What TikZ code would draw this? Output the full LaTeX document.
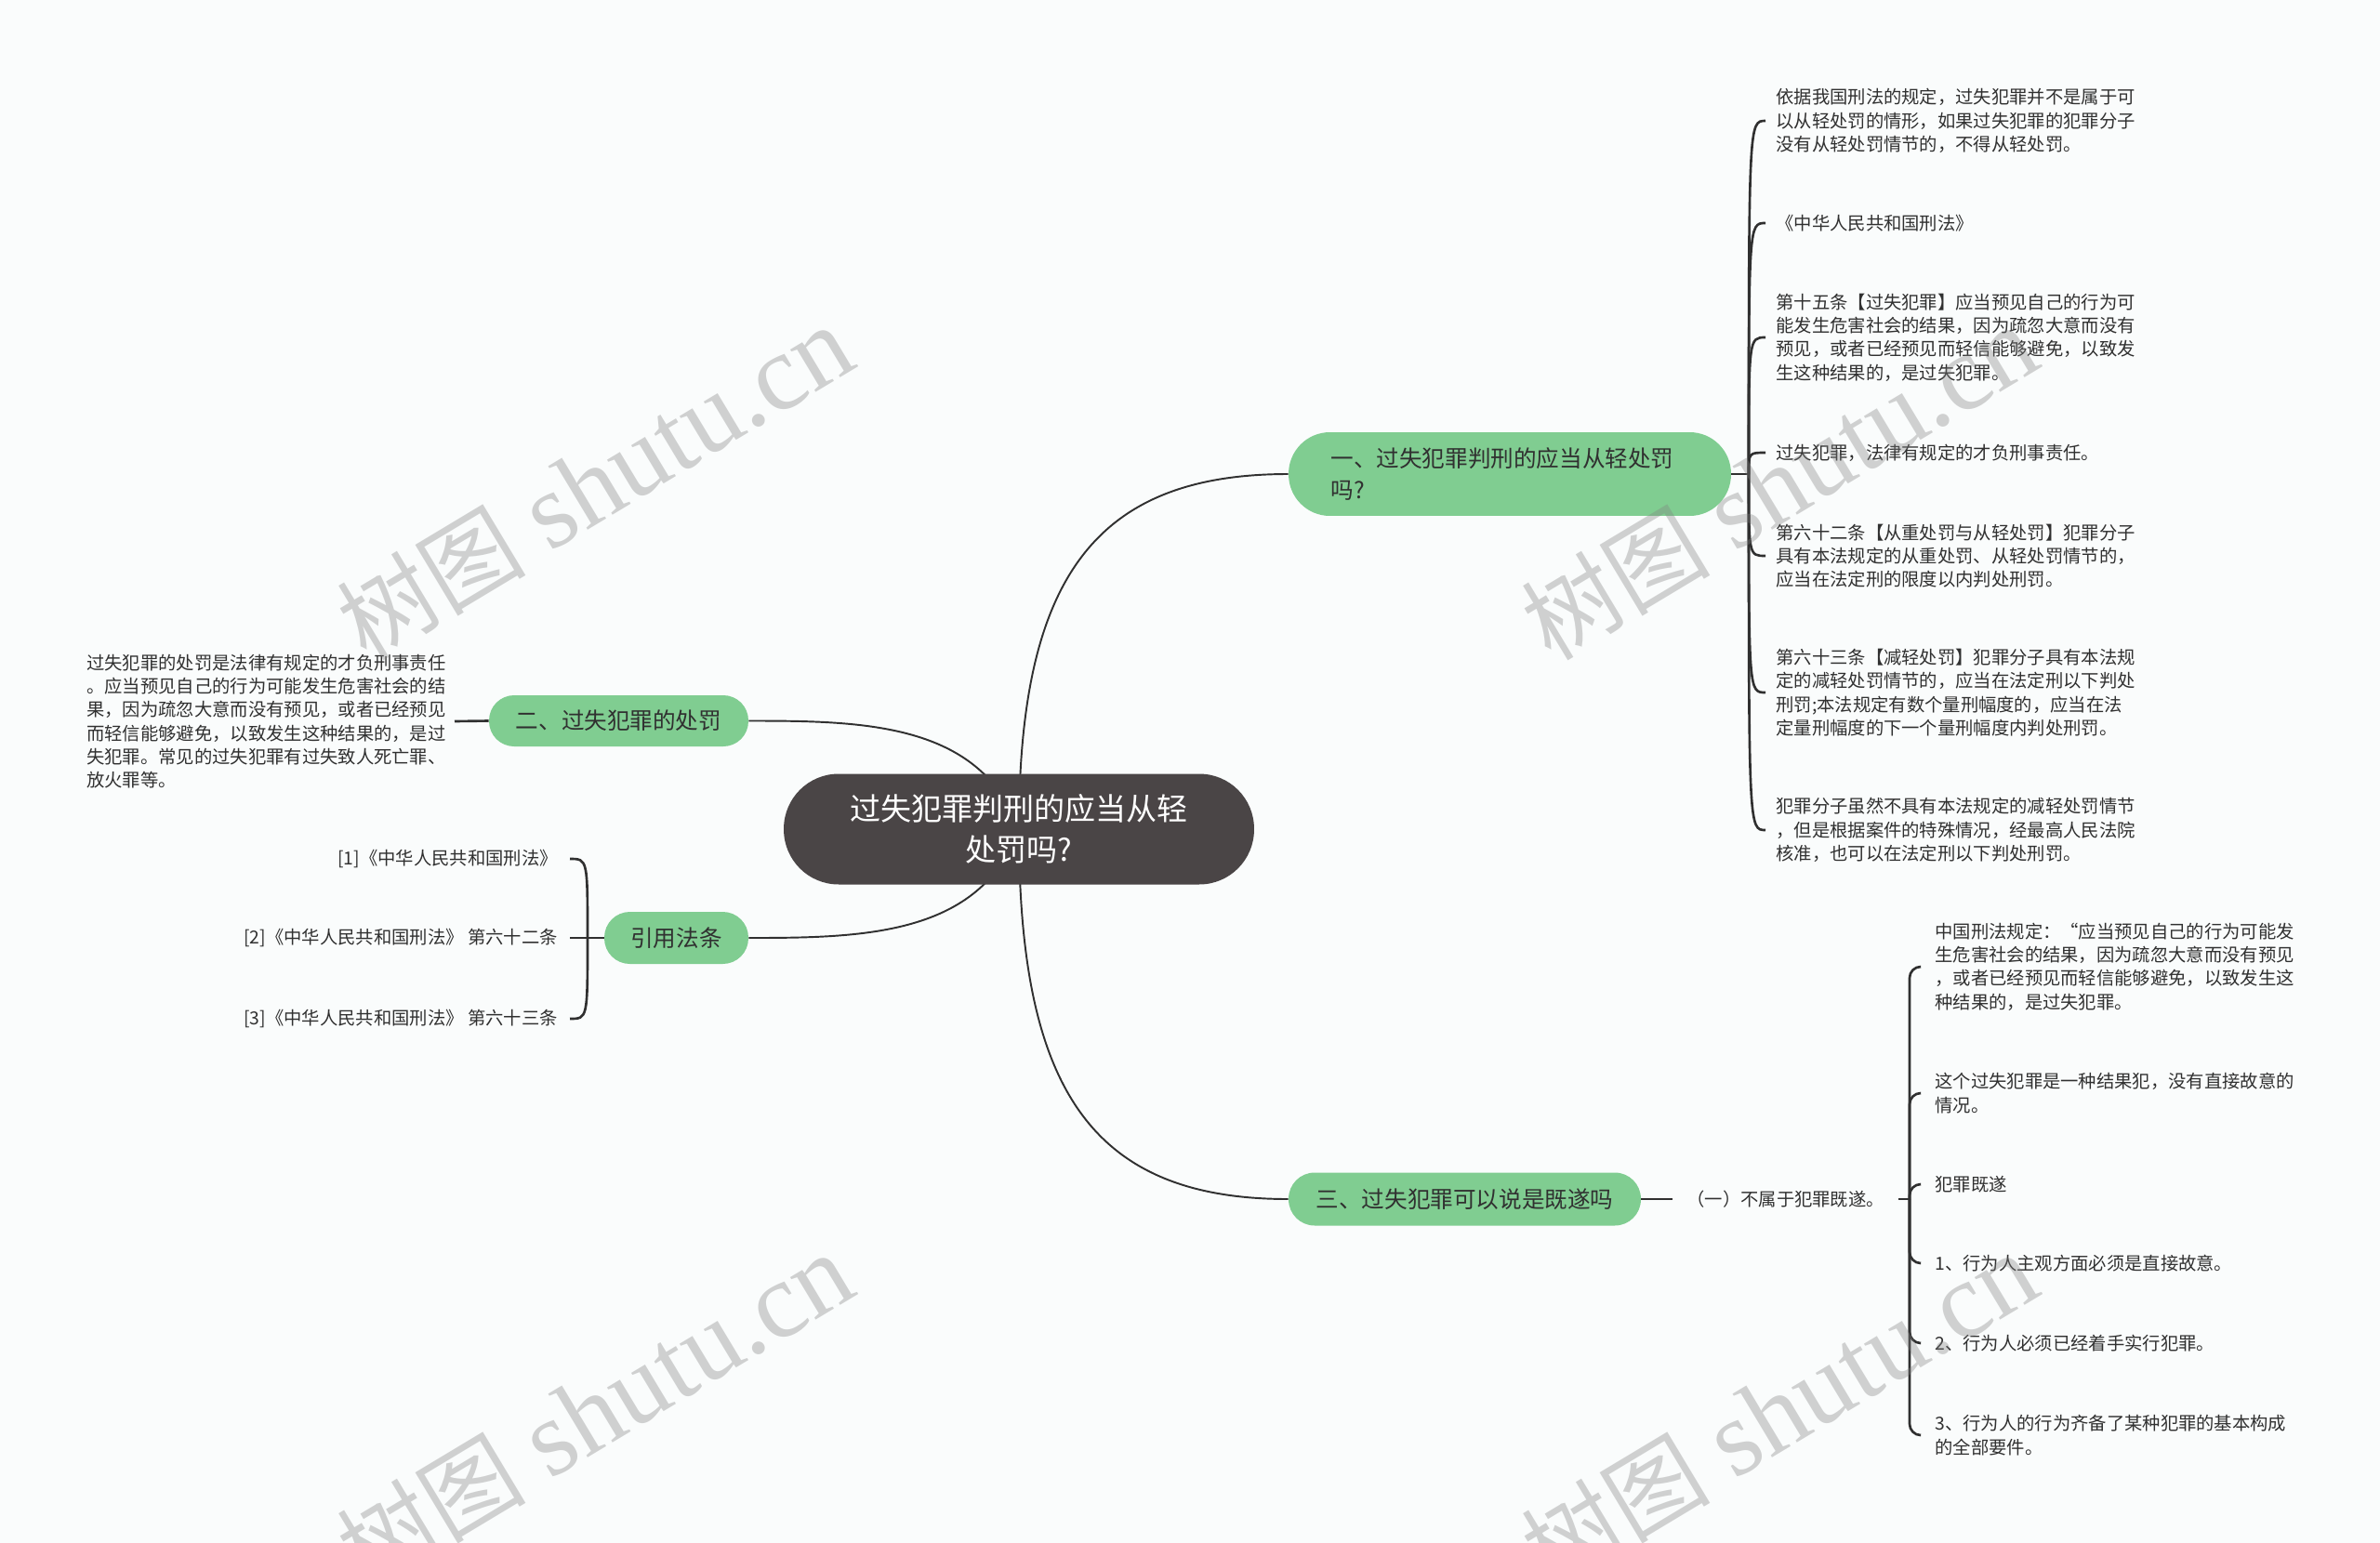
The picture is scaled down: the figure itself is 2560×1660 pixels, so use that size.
\documentclass[tikz,border=0pt]{standalone}
\usepackage{fontspec}
\setmainfont{Noto Sans CJK SC}
\newfontfamily\wmfont{Liberation Serif}
\usepackage{tikz}
\usetikzlibrary{positioning, calc}

\definecolor{rootgray}{RGB}{74,69,70}
\definecolor{topicgreen}{RGB}{128,205,145}
\definecolor{inkgray}{RGB}{48,48,48}
\definecolor{paper}{RGB}{250,252,252}

\pgfdeclarelayer{bg}
\pgfdeclarelayer{edges}
\pgfsetlayers{bg,edges,main}

\begin{document}
\begin{tikzpicture}[x=0.02cm, y=-0.02cm,
  root/.style={fill=rootgray, text=white, inner sep=0pt, align=center,
    minimum width=10.12cm, minimum height=2.38cm, rounded corners=1.18cm,
    font=\fontsize{18.8}{25}\selectfont},
  topic/.style={fill=topicgreen, text=inkgray, inner sep=0pt,
    font=\fontsize{14}{19.5}\selectfont},
  leaf/.style={text=inkgray, inner ysep=0pt, font=\fontsize{11}{14.4}\selectfont},
  link/.style={draw=inkgray, line width=1.1pt},
  brace/.style={draw=inkgray, line width=1.5pt},
  stamp/.style={text=black!50, opacity=0.35, rotate=31,
    font=\fontsize{66}{66}\selectfont}]

  % Canvas
  \useasboundingbox (0,0) rectangle (2560,1660);
  \begin{pgfonlayer}{bg}
    \fill[paper] (0,0) rectangle (2560,1660);
  \end{pgfonlayer}

  % Central topic
  \node[root] (root) at (1096,892) {过失犯罪判刑的应当从轻\\处罚吗?};

  % Main branches
  \node[topic, minimum width=9.52cm, minimum height=1.8cm, rounded corners=0.89cm,
    text width=7.7cm, align=left] (b1) at (1624,510) {一、过失犯罪判刑的应当从轻处罚\\吗?};
  \node[topic, minimum width=5.58cm, minimum height=1.1cm, rounded corners=0.54cm]
    (b2) at (665.5,775.5) {二、过失犯罪的处罚};
  \node[topic, minimum width=7.58cm, minimum height=1.14cm, rounded corners=0.56cm]
    (b3) at (1575.5,1290) {三、过失犯罪可以说是既遂吗};
  \node[topic, minimum width=3.1cm, minimum height=1.12cm, rounded corners=0.55cm]
    (b4) at (727.5,1009) {引用法条};

  % Leaves of branch one
  \coordinate (j1) at (1881,510);
  \node[leaf, anchor=west, inner xsep=0.22cm, align=left] (a1) at (1899,130)
    {依据我国刑法的规定，过失犯罪并不是属于可\\以从轻处罚的情形，如果过失犯罪的犯罪分子\\没有从轻处罚情节的，不得从轻处罚。};
  \node[leaf, anchor=west, inner xsep=0.22cm, align=left] (a2) at (1899,240)
    {《中华人民共和国刑法》};
  \node[leaf, anchor=west, inner xsep=0.22cm, align=left] (a3) at (1899,363)
    {第十五条【过失犯罪】应当预见自己的行为可\\能发生危害社会的结果，因为疏忽大意而没有\\预见，或者已经预见而轻信能够避免，以致发\\生这种结果的，是过失犯罪。};
  \node[leaf, anchor=west, inner xsep=0.22cm, align=left] (a4) at (1899,487)
    {过失犯罪，法律有规定的才负刑事责任。};
  \node[leaf, anchor=west, inner xsep=0.22cm, align=left] (a5) at (1899,598)
    {第六十二条【从重处罚与从轻处罚】犯罪分子\\具有本法规定的从重处罚、从轻处罚情节的，\\应当在法定刑的限度以内判处刑罚。};
  \node[leaf, anchor=west, inner xsep=0.22cm, align=left] (a6) at (1899,745)
    {第六十三条【减轻处罚】犯罪分子具有本法规\\定的减轻处罚情节的，应当在法定刑以下判处\\刑罚;本法规定有数个量刑幅度的，应当在法\\定量刑幅度的下一个量刑幅度内判处刑罚。};
  \node[leaf, anchor=west, inner xsep=0.22cm, align=left] (a7) at (1899,893)
    {犯罪分子虽然不具有本法规定的减轻处罚情节\\，但是根据案件的特殊情况，经最高人民法院\\核准，也可以在法定刑以下判处刑罚。};

  % Leaf of branch two
  \node[leaf, anchor=east, inner xsep=0.18cm, align=left] (s1) at (489,776)
    {过失犯罪的处罚是法律有规定的才负刑事责任\\。应当预见自己的行为可能发生危害社会的结\\果，因为疏忽大意而没有预见，或者已经预见\\而轻信能够避免，以致发生这种结果的，是过\\失犯罪。常见的过失犯罪有过失致人死亡罪、\\放火罪等。};

  % Branch three
  \node[leaf, anchor=west, inner xsep=0.3cm] (d1) at (1799,1290) {（一）不属于犯罪既遂。};
  \coordinate (j3) at (2054,1290);
  \node[leaf, anchor=west, inner xsep=0.3cm, align=left] (e1) at (2066,1040)
    {中国刑法规定：“应当预见自己的行为可能发\\生危害社会的结果，因为疏忽大意而没有预见\\，或者已经预见而轻信能够避免，以致发生这\\种结果的，是过失犯罪。};
  \node[leaf, anchor=west, inner xsep=0.3cm, align=left] (e2) at (2066,1176)
    {这个过失犯罪是一种结果犯，没有直接故意的\\情况。};
  \node[leaf, anchor=west, inner xsep=0.3cm, align=left] (e3) at (2066,1274) {犯罪既遂};
  \node[leaf, anchor=west, inner xsep=0.3cm, align=left] (e4) at (2066,1359)
    {1、行为人主观方面必须是直接故意。};
  \node[leaf, anchor=west, inner xsep=0.3cm, align=left] (e5) at (2066,1445)
    {2、行为人必须已经着手实行犯罪。};
  \node[leaf, anchor=west, inner xsep=0.3cm, align=left] (e6) at (2066,1544)
    {3、行为人的行为齐备了某种犯罪的基本构成\\的全部要件。};

  % Cited articles
  \coordinate (j2) at (632,1009);
  \node[leaf, anchor=east, inner xsep=0.26cm] (c1) at (613,924) {[1]《中华人民共和国刑法》};
  \node[leaf, anchor=east, inner xsep=0.26cm] (c2) at (613,1009) {[2]《中华人民共和国刑法》 第六十二条};
  \node[leaf, anchor=east, inner xsep=0.26cm] (c3) at (613,1096) {[3]《中华人民共和国刑法》 第六十三条};

  % Connectors
  \begin{pgfonlayer}{edges}
    \draw[link] (root.center) to[out=90, in=180, out looseness=1.45, in looseness=1.1] (b1.west);
    \draw[link] (root.center) to[out=270, in=180, out looseness=1.45, in looseness=1.1] (b3.west);
    \draw[link] (root.center) to[out=110, in=0] (b2.east);
    \draw[link] (root.center) to[out=250, in=0] (b4.east);

    \draw[brace] (b1.east) -- (j1);
    \foreach \n in {1,...,7}
      \draw[brace] (j1) .. controls (j1 |- a\n.west) .. (a\n.west);

    \draw[brace] (b2.west) -- (s1.east);

    \draw[brace] (b3.east) -- (d1.west);
    \draw[brace] (d1.east) -- (j3);
    \foreach \n in {1,...,6}
      \draw[brace, rounded corners=0.24cm] (j3) |- (e\n.west);

    \draw[brace] (b4.west) -- (c2.east);
    \foreach \n in {1,3}
      \draw[brace] (j2) .. controls (j2 |- c\n.east) .. (c\n.east);
  \end{pgfonlayer}

  % Watermarks
  \foreach \wx/\wy in {640/520, 1914/520, 640/1518, 1914/1518}
    \node[stamp] (wm) at (\wx,\wy) {{\fontsize{58}{58}\selectfont 树图} {\wmfont shutu.cn}};
\end{tikzpicture}
\end{document}
